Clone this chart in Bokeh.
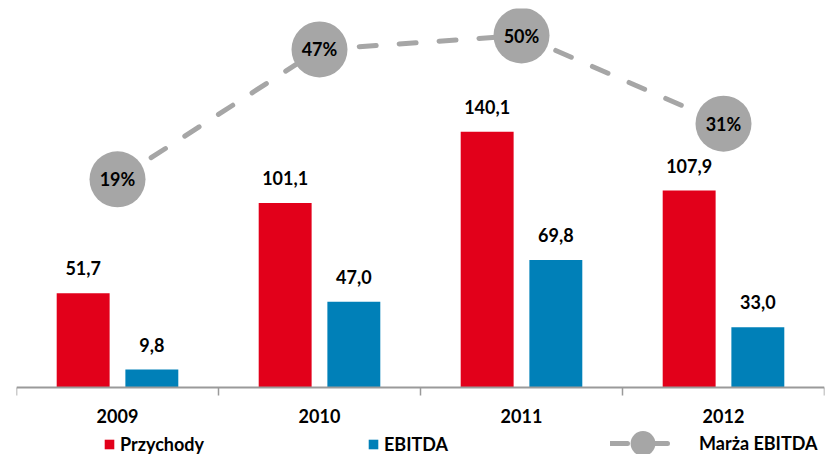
from bokeh.plotting import figure
from bokeh.models import (ColumnDataSource, Range1d, FixedTicker, Legend, LegendItem)
from bokeh.core.properties import value
from bokeh.embed import file_html
from bokeh.resources import INLINE

years = ["2009", "2010", "2011", "2012"]
przychody = [51.7, 101.1, 140.1, 107.9]
ebitda = [9.8, 47.0, 69.8, 33.0]
marza = [19, 47, 50, 31]

RED = "#E2001A"
BLUE = "#0080B8"
GRAY = "#A6A6A6"
FONT = value("Lato")

xc = [i + 0.5 for i in range(len(years))]
off = 0.17
bw = 0.262

def fmt(v):
    return f"{v:.1f}".replace(".", ",")

src_r = ColumnDataSource(dict(x=[c - off for c in xc], top=przychody, lab=[fmt(v) for v in przychody]))
src_b = ColumnDataSource(dict(x=[c + off for c in xc], top=ebitda, lab=[fmt(v) for v in ebitda]))
src_m = ColumnDataSource(dict(x=xc, y=marza, lab=[f"{m}%" for m in marza]))

p = figure(width=825, height=454, output_backend="svg", toolbar_location=None,
           x_range=Range1d(0, 4), y_range=Range1d(-36.71, 207.67),
           min_border_left=16, min_border_right=1, min_border_top=8, min_border_bottom=0)
p.extra_y_ranges = {"pct": Range1d(-40.30, 55.82)}

p.grid.visible = False
p.outline_line_color = None
p.yaxis.visible = False

ax = p.xaxis[0]
ax.fixed_location = 0
ax.ticker = FixedTicker(ticks=xc, minor_ticks=[0, 1, 2, 3, 4])
ax.major_label_overrides = {c: y for c, y in zip(xc, years)}
ax.major_tick_out = 0
ax.major_tick_in = 0
ax.minor_tick_out = 8
ax.minor_tick_in = 0
ax.minor_tick_line_color = "#9A9A9A"
ax.minor_tick_line_width = 1.5
ax.axis_line_color = "#9A9A9A"
ax.axis_line_width = 1.8
ax.major_label_text_font = "Lato"
ax.major_label_text_font_style = "bold"
ax.major_label_text_font_size = "18px"
ax.major_label_text_color = "black"
ax.major_label_standoff = 13

rb = p.vbar(x="x", top="top", width=bw, source=src_r, fill_color=RED, line_color=None)
bb = p.vbar(x="x", top="top", width=bw, source=src_b, fill_color=BLUE, line_color=None)

for s in (src_r, src_b):
    p.text(x="x", y="top", text="lab", source=s, text_font=FONT, text_font_style="bold",
           text_font_size="18px", text_align="center", text_baseline="middle",
           y_offset=-25, text_color="black")

ln = p.line(x="x", y="y", source=src_m, line_color=GRAY, line_width=5, line_dash="17 23",
            line_cap="round", y_range_name="pct")
sc = p.scatter(x="x", y="y", source=src_m, size=56, fill_color=GRAY, line_color=None,
               y_range_name="pct")
p.text(x="x", y="y", text="lab", source=src_m, text_font=FONT, text_font_style="bold",
       text_font_size="18px", text_align="center", text_baseline="middle",
       text_color="black", y_range_name="pct")

def mk_legend(items, loc, gw, gh, standoff):
    lg = Legend(items=items, location=loc, orientation="horizontal",
                glyph_width=gw, glyph_height=gh, label_standoff=standoff,
                padding=0, margin=0, spacing=0, border_line_color=None,
                background_fill_alpha=0, label_text_font="Lato",
                label_text_font_style="bold", label_text_font_size="18px",
                label_text_color="black", label_height=16)
    p.add_layout(lg, "center")

mk_legend([LegendItem(label="Przychody", renderers=[rb])], (87, -1), 12, 12, 5)
mk_legend([LegendItem(label="EBITDA", renderers=[bb])], (351, -1), 12, 12, 5)
mk_legend([LegendItem(label="Marża EBITDA", renderers=[ln, sc])], (594, -20), 65, 62, 24)

open("out.html", "w").write(file_html(p, INLINE))
